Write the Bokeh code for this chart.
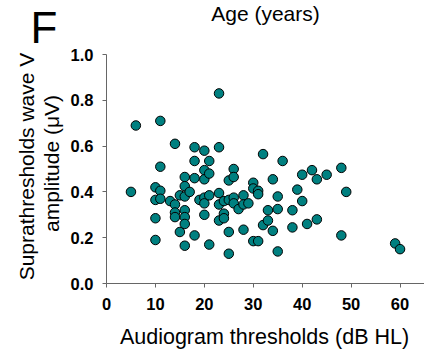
import math
from bokeh.plotting import figure
from bokeh.models import Range1d, FixedTicker, PrintfTickFormatter, Label
from bokeh.embed import file_html
from bokeh.resources import INLINE

# Audiogram thresholds (dB HL)
thresholds = [5, 6, 10, 10, 10, 10, 11, 11, 11, 11, 13, 14, 14, 14, 14, 15, 15,
              16, 16, 16, 16, 16, 16, 16, 17, 18, 18, 18, 18, 19, 20, 20, 20, 20,
              20, 20, 21, 21, 21, 21, 23, 23, 23, 23, 23, 24, 24, 24, 25, 25, 25,
              25, 26, 26, 26, 26, 27, 28, 28, 28, 29, 30, 30, 30, 31, 31, 31, 32,
              32, 33, 33, 34, 34, 35, 35, 35, 36, 38, 38, 39, 40, 40, 41, 42, 43,
              43, 45, 48, 48, 49, 59, 60]
# Suprathreshold wave V amplitude (uV)
amplitudes = [0.40, 0.69, 0.42, 0.365, 0.285, 0.19, 0.71, 0.51, 0.405, 0.37,
              0.36, 0.61, 0.345, 0.31, 0.29, 0.385, 0.225, 0.465, 0.425, 0.38,
              0.32, 0.29, 0.26, 0.165, 0.40, 0.595, 0.535, 0.46, 0.21, 0.365,
              0.58, 0.495, 0.455, 0.375, 0.35, 0.30, 0.535, 0.48, 0.385, 0.17,
              0.83, 0.595, 0.395, 0.345, 0.275, 0.36, 0.305, 0.285, 0.45, 0.365,
              0.225, 0.13, 0.50, 0.465, 0.375, 0.35, 0.325, 0.385, 0.345, 0.235,
              0.35, 0.44, 0.415, 0.185, 0.405, 0.39, 0.185, 0.565, 0.255, 0.32,
              0.275, 0.455, 0.23, 0.38, 0.325, 0.14, 0.535, 0.32, 0.245, 0.41,
              0.475, 0.36, 0.26, 0.495, 0.455, 0.28, 0.475, 0.505, 0.21, 0.40,
              0.175, 0.15]

x_ticks = [0, 10, 20, 30, 40, 50, 60]
y_ticks = [0.0, 0.2, 0.4, 0.6, 0.8, 1.0]

FONT = "Liberation Sans"
AXIS_COLOR = "#666666"

W, H = 424, 349
ZERO_ROW = 283              # pixel row of y = 0
ZERO_COL = 106              # pixel column of x = 0
TOP_ROW = 54                # pixel row of y = 1.0
X_MAX = 65.0
Y_AXIS_TOP = 1.0
PX_PER_X = (W - ZERO_COL) / X_MAX
PX_PER_Y = (ZERO_ROW - TOP_ROW) / Y_AXIS_TOP
X_MIN = -ZERO_COL / PX_PER_X
Y_MAX = ZERO_ROW / PX_PER_Y
Y_MIN = -(H - ZERO_ROW) / PX_PER_Y

p = figure(width=W, height=H, output_backend="svg", toolbar_location=None,
           x_range=Range1d(X_MIN, X_MAX), y_range=Range1d(Y_MIN, Y_MAX),
           min_border_left=0, min_border_right=0, min_border_top=0,
           min_border_bottom=0)
p.outline_line_color = None
p.xgrid.grid_line_color = None
p.ygrid.grid_line_color = None
p.background_fill_color = "white"
p.border_fill_color = "white"

p.scatter(thresholds, amplitudes, size=9.5, fill_color="#008080",
          line_color="black", line_width=1)

for ax in (p.xaxis[0], p.yaxis[0]):
    ax.axis_line_color = AXIS_COLOR
    ax.major_tick_line_color = AXIS_COLOR
    ax.minor_tick_line_color = None
    ax.major_tick_in = 0
    ax.major_tick_out = 4
    ax.major_label_text_font = FONT
    ax.major_label_text_font_style = "bold"
    ax.major_label_text_font_size = "16.5px"
    ax.major_label_text_color = "black"
    ax.fixed_location = 0

p.xaxis[0].ticker = FixedTicker(ticks=x_ticks)
p.xaxis[0].bounds = (0, X_MAX)
p.yaxis[0].ticker = FixedTicker(ticks=y_ticks)
p.yaxis[0].bounds = (0, Y_AXIS_TOP)
p.yaxis[0].formatter = PrintfTickFormatter(format="%.1f")
p.xaxis[0].major_label_standoff = 10
p.yaxis[0].major_label_standoff = 9

def add_text(text, px, py, size, align="center", angle=0.0):
    # px, py: canvas pixel position of the text's bottom edge anchor
    p.add_layout(Label(x=px, y=H - py, x_units="screen", y_units="screen",
                       text=text, angle=angle, text_align=align,
                       text_baseline="bottom", text_font=FONT,
                       text_font_size=size, text_color="black"))

add_text("Suprathresholds wave V", 37, 166, "21px", angle=math.pi / 2)
add_text("amplitude (\u03bcV)", 62, 163, "21px", angle=math.pi / 2)
add_text("F", 30, 51, "44px", align="left")
add_text("Age (years)", 265, 24, "21px")
add_text("Audiogram thresholds (dB HL)", 264, 348, "21.5px")

open("out.html", "w").write(file_html(p, INLINE))
